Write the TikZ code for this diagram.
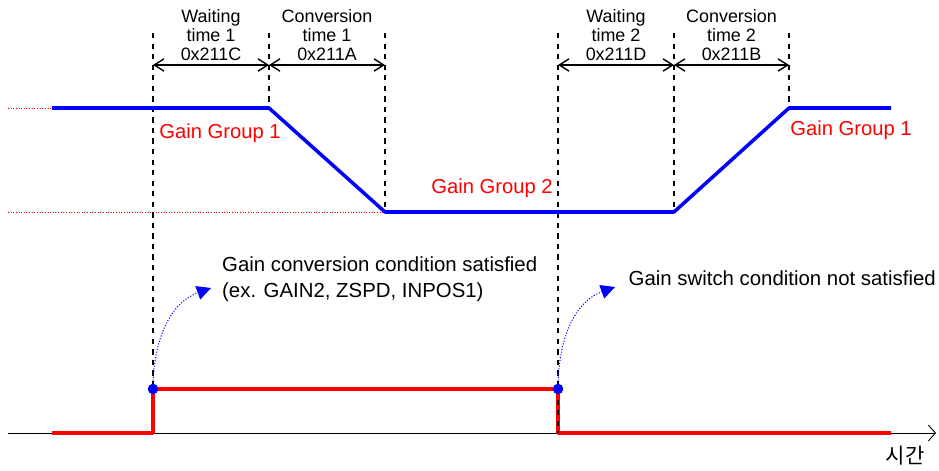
\documentclass[tikz,border=0pt]{standalone}
\usepackage{fontspec}
\setmainfont{Liberation Sans}
\newfontfamily\krfont{Noto Sans CJK KR}
\usetikzlibrary{arrows.meta}
\tikzset{
	guide/.style={dashed,line width=0.8pt},
	dimline/.style={line width=0.8pt,{Straight Barb[length=5.5pt,width=7pt]}-{Straight Barb[length=5.5pt,width=7pt]}},
	gainline/.style={blue,line width=2pt},
	sigline/.style={red,line width=2pt},
	levelref/.style={red,densely dotted,line width=0.5pt},
	grouplabel/.style={red,font=\fontsize{11.5}{13}\selectfont},
	timelabel/.style={align=center,font=\fontsize{10.2}{10.6}\selectfont},
	condlabel/.style={right,align=left,font=\fontsize{11.6}{14.5}\selectfont},
	hint/.style={blue,densely dotted,line width=0.6pt,-{Triangle[length=8pt,width=8pt]}}
}
\begin{document}
\begin{tikzpicture}[line join=round]
	\useasboundingbox (0,0) rectangle (18.78,9.4);
	% time instants
	\coordinate (t1) at (3.06,0); \coordinate (t2) at (5.38,0); \coordinate (t3) at (7.70,0);
	\coordinate (t4) at (11.16,0); \coordinate (t5) at (13.48,0); \coordinate (t6) at (15.78,0);
	% gain profile
	\coordinate (g0) at (1.04,7.24); \coordinate (g1) at (5.38,7.24); \coordinate (g2) at (7.70,5.16);
	\coordinate (g3) at (13.48,5.16); \coordinate (g4) at (15.78,7.24); \coordinate (g5) at (17.82,7.24);
	% switch signal
	\coordinate (s0) at (1.04,0.74); \coordinate (s1) at (3.06,0.74); \coordinate (s4) at (11.16,0.74);
	\coordinate (s5) at (17.82,0.74);
	\coordinate (d1) at (3.06,1.62); \coordinate (d2) at (11.16,1.62);
	% axis
	\draw[line width=0.5pt,-{Straight Barb[length=4pt,width=9pt]}] (0.16,0.74) -- (18.72,0.74) coordinate (tend);
	\node[font=\krfont\fontsize{12}{14}\selectfont] (tlabel) at (18.1,0.28) {시간};
	% reference levels
	\draw[levelref] (0.16,7.24) -- (g0);
	\draw[levelref] (0.16,5.16) -- (g2);
	% guides
	\draw[guide] (3.06,8.74) -- (d1);
	\draw[guide] (5.38,8.74) -- (g1);
	\draw[guide] (7.70,8.74) -- (g2);
	\draw[guide] (11.16,8.74) -- (s4);
	\draw[guide] (13.48,8.74) -- (g3);
	\draw[guide] (15.78,8.74) -- (g4);
	% signals
	\draw[gainline] (g0) -- (g1) -- (g2) -- (g3) -- (g4) -- (g5);
	\draw[sigline] (s0) -- (s1) -- (d1) -- (d2) -- (s4) -- (s5);
	\draw[guide] (d2) -- (s4);
	\fill[blue] (d1) circle (3pt);
	\fill[blue] (d2) circle (3pt);
	% time spans
	\draw[dimline] (3.06,8.10) -- (5.38,8.10);
	\draw[dimline] (5.38,8.10) -- (7.70,8.10);
	\draw[dimline] (11.16,8.10) -- (13.48,8.10);
	\draw[dimline] (13.48,8.10) -- (15.78,8.10);
	\node[timelabel] (wait1) at (4.22,8.70) {Waiting\\time 1\\0x211C};
	\node[timelabel] (conv1) at (6.54,8.70) {Conversion\\time 1\\0x211A};
	\node[timelabel] (wait2) at (12.32,8.70) {Waiting\\time 2\\0x211D};
	\node[timelabel] (conv2) at (14.63,8.70) {Conversion\\time 2\\0x211B};
	% group labels
	\node[grouplabel] (grp1a) at (4.4,6.74) {Gain Group 1};
	\node[grouplabel] (grp2) at (9.84,5.64) {Gain Group 2};
	\node[grouplabel] (grp1b) at (17.02,6.80) {Gain Group 1};
	% conditions
	\node[condlabel] (cond1) at (4.32,3.82) {Gain conversion condition satisfied\\(ex. GAIN2, ZSPD, INPOS1)};
	\node[condlabel] (cond2) at (12.45,3.84) {Gain switch condition not satisfied};
	\coordinate (h1) at (4.22,3.64); \coordinate (h2) at (12.3,3.66);
	\draw[hint] (d1) to[out=90,in=200] (h1);
	\draw[hint] (d2) to[out=90,in=200] (h2);
\end{tikzpicture}
\end{document}
